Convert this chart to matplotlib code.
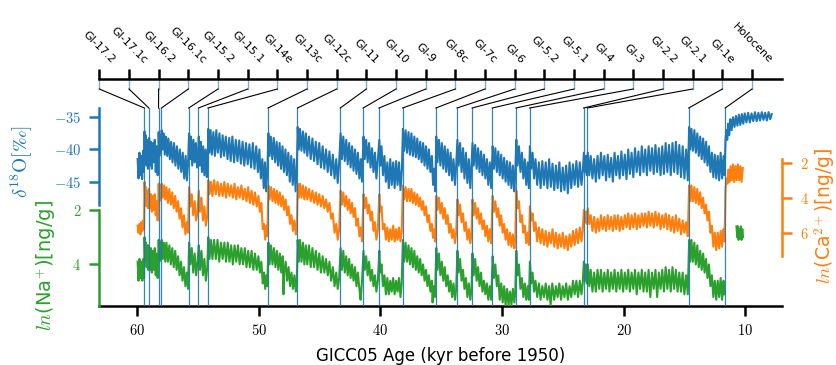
import matplotlib
matplotlib.use('Agg')
import matplotlib.pyplot as plt
from matplotlib.ticker import FuncFormatter, FixedLocator
import numpy as np

plt.rcParams['mathtext.fontset'] = 'cm'
plt.rcParams['font.family'] = ['DejaVu Sans']

C_BLUE = '#1f77b4'
C_OR = '#ff7f0e'
C_GR = '#2ca02c'

# ---------------- data ----------------
event_labels = ['GI-17.2', 'GI-17.1c', 'GI-16.2', 'GI-16.1c', 'GI-15.2', 'GI-15.1',
                'GI-14e', 'GI-13c', 'GI-12c', 'GI-11', 'GI-10', 'GI-9', 'GI-8c',
                'GI-7c', 'GI-6', 'GI-5.2', 'GI-5.1', 'GI-4', 'GI-3', 'GI-2.2',
                'GI-2.1', 'GI-1e', 'Holocene']
# onset ages, kyr before 1950
event_ages = [59.39, 59.03, 58.23, 57.99, 55.75, 54.95, 54.17, 49.23, 46.81,
              43.29, 41.41, 40.11, 38.17, 35.43, 33.69, 32.45, 30.79, 28.85,
              27.73, 23.29, 22.97, 14.64, 11.65]

age_ticks = [60, 50, 40, 30, 20, 10]
d18o_ticks = [-35, -40, -45]
na_ticks = [2, 4]
ca_ticks = [2, 4, 6]

# delta18O [permil] (age kyr, value)
d18o_pts = [
    (59.95, -41.5), (59.88, -44.5), (59.8, -40.5), (59.72, -44.0), (59.65, -41.0), (59.58, -44.6), (59.5, -40.2), (59.45, -43.5),
    (59.38, -37.2), (59.33, -41.0), (59.28, -37.8), (59.22, -42.5), (59.16, -38.5), (59.1, -43.0), (59.05, -39.0),
    (59.0, -38.2), (58.94, -42.5), (58.86, -38.8), (58.78, -43.0), (58.7, -39.0), (58.62, -42.0), (58.54, -38.5), (58.46, -43.5), (58.38, -39.5), (58.3, -44.0), (58.25, -41.0),
    (58.22, -37.3), (58.16, -41.0), (58.1, -37.8), (58.04, -40.5), (58.0, -38.5),
    (57.97, -37.0), (57.9, -40.0), (57.82, -37.5), (57.72, -40.8), (57.62, -38.0), (57.52, -41.0), (57.42, -38.3), (57.3, -41.5), (57.2, -38.8), (57.08, -42.0), (56.96, -39.0), (56.84, -42.5), (56.72, -39.5), (56.6, -43.0), (56.48, -40.0), (56.36, -43.5), (56.24, -40.5), (56.12, -44.5), (56.0, -41.0), (55.9, -44.8), (55.8, -42.0),
    (55.72, -37.5), (55.64, -41.5), (55.56, -38.0), (55.46, -42.5), (55.36, -38.5), (55.26, -42.0), (55.16, -39.0), (55.06, -42.8), (54.97, -40.5),
    (54.92, -38.0), (54.84, -42.5), (54.76, -38.8), (54.66, -43.5), (54.56, -39.5), (54.46, -44.0), (54.36, -40.0), (54.26, -44.3), (54.19, -42.0),
    (54.14, -36.8), (54.05, -40.5), (53.95, -37.0), (53.85, -40.8), (53.72, -37.3), (53.6, -41.0), (53.48, -37.0), (53.36, -40.5), (53.22, -37.5), (53.1, -41.2), (52.96, -37.8), (52.84, -41.0), (52.7, -38.0), (52.56, -41.5), (52.42, -38.2), (52.3, -41.8), (52.16, -38.0), (52.02, -42.0), (51.88, -38.5), (51.74, -41.8), (51.6, -38.6), (51.46, -42.2), (51.32, -38.8), (51.18, -42.5), (51.04, -39.0), (50.9, -42.3), (50.76, -39.2), (50.62, -42.8), (50.48, -39.0), (50.34, -43.0), (50.2, -39.5), (50.06, -43.5), (49.94, -40.0), (49.82, -44.5), (49.7, -41.5), (49.58, -46.0), (49.48, -42.0), (49.38, -46.5), (49.28, -43.0),
    (49.2, -37.5), (49.1, -41.0), (49.0, -38.0), (48.88, -41.5), (48.76, -38.2), (48.64, -42.0), (48.52, -38.8), (48.4, -42.5), (48.28, -39.0), (48.16, -43.0), (48.04, -39.5), (47.92, -43.5), (47.8, -40.0), (47.68, -44.0), (47.56, -40.5), (47.44, -45.0), (47.32, -41.0), (47.2, -45.5), (47.08, -41.5), (46.96, -46.5), (46.86, -43.0),
    (46.79, -36.5), (46.7, -40.0), (46.6, -36.8), (46.48, -40.2), (46.36, -37.2), (46.24, -40.5), (46.12, -37.5), (46.0, -41.0), (45.86, -38.0), (45.72, -41.5), (45.58, -38.3), (45.44, -41.8), (45.3, -38.8), (45.16, -42.3), (45.02, -39.0), (44.88, -42.8), (44.74, -39.5), (44.6, -43.0), (44.46, -40.0), (44.32, -43.5), (44.18, -40.3), (44.04, -44.0), (43.9, -40.8), (43.76, -44.5), (43.62, -41.5), (43.5, -45.2), (43.38, -42.0),
    (43.26, -37.5), (43.16, -41.5), (43.04, -38.0), (42.92, -41.8), (42.8, -38.5), (42.68, -42.3), (42.56, -39.0), (42.44, -42.8), (42.32, -39.5), (42.2, -43.3), (42.08, -40.0), (41.96, -43.8), (41.84, -40.5), (41.72, -44.5), (41.6, -41.5), (41.5, -45.0),
    (41.38, -38.0), (41.28, -41.5), (41.16, -38.5), (41.04, -42.0), (40.92, -39.0), (40.8, -42.8), (40.68, -39.8), (40.56, -43.5), (40.44, -40.5), (40.32, -44.5), (40.2, -41.5),
    (40.08, -38.5), (40.0, -42.5), (39.9, -39.5), (39.78, -44.0), (39.66, -41.0), (39.54, -45.0), (39.42, -42.0), (39.3, -46.0), (39.18, -41.5), (39.06, -45.5), (38.94, -42.0), (38.82, -46.0), (38.7, -41.8), (38.58, -45.5), (38.46, -42.0), (38.34, -46.3), (38.22, -43.0),
    (38.14, -36.8), (38.04, -40.2), (37.92, -37.0), (37.8, -40.5), (37.68, -37.3), (37.56, -40.8), (37.44, -37.5), (37.32, -41.0), (37.2, -38.0), (37.08, -41.2), (36.96, -38.3), (36.84, -41.5), (36.72, -38.8), (36.6, -42.0), (36.48, -39.0), (36.36, -42.5), (36.24, -39.5), (36.12, -43.0), (36.0, -40.0), (35.88, -43.5), (35.76, -41.0), (35.66, -45.5), (35.56, -43.0), (35.48, -46.5),
    (35.4, -38.0), (35.3, -42.0), (35.18, -38.5), (35.06, -42.5), (34.94, -39.0), (34.82, -43.0), (34.7, -39.5), (34.58, -43.5), (34.46, -40.0), (34.34, -44.0), (34.22, -40.5), (34.1, -44.8), (33.98, -41.5), (33.86, -45.5), (33.76, -42.5),
    (33.66, -38.5), (33.56, -42.5), (33.44, -39.0), (33.32, -43.5), (33.2, -39.8), (33.08, -44.5), (32.96, -40.5), (32.84, -45.2), (32.72, -41.5), (32.6, -46.0), (32.5, -42.5),
    (32.42, -39.0), (32.32, -42.5), (32.2, -39.3), (32.08, -43.0), (31.96, -39.8), (31.84, -43.5), (31.72, -40.3), (31.6, -44.0), (31.48, -40.8), (31.36, -44.5), (31.24, -41.5), (31.12, -45.5), (31.0, -42.0), (30.88, -46.0),
    (30.76, -39.5), (30.66, -43.0), (30.54, -39.8), (30.42, -43.5), (30.3, -40.3), (30.18, -44.0), (30.06, -40.8), (29.94, -44.5), (29.82, -41.3), (29.7, -45.0), (29.58, -41.8), (29.46, -45.5), (29.34, -42.0), (29.22, -46.0), (29.1, -42.5), (28.98, -46.5), (28.9, -43.5),
    (28.82, -38.5), (28.72, -42.5), (28.6, -39.5), (28.48, -43.5), (28.36, -40.5), (28.24, -44.5), (28.12, -41.5), (28.0, -45.5), (27.88, -42.0), (27.78, -46.0),
    (27.7, -39.5), (27.6, -43.0), (27.48, -40.5), (27.36, -44.5), (27.24, -41.5), (27.1, -45.5), (26.96, -42.0), (26.82, -46.0), (26.68, -41.8), (26.54, -45.5), (26.4, -42.0), (26.26, -46.0), (26.12, -41.5), (25.98, -45.8), (25.84, -42.2), (25.7, -46.3), (25.56, -42.5), (25.42, -46.0), (25.28, -42.0), (25.14, -46.5), (25.0, -42.8), (24.86, -46.3), (24.72, -42.5), (24.58, -46.8), (24.44, -42.0), (24.3, -46.0), (24.16, -42.3), (24.02, -45.5), (23.88, -41.8), (23.74, -45.8), (23.6, -42.0), (23.46, -45.5), (23.34, -43.0),
    (23.26, -40.5), (23.18, -43.5), (23.1, -41.0), (23.02, -44.0),
    (22.94, -40.5), (22.82, -44.0), (22.7, -41.0), (22.56, -44.5), (22.42, -41.5), (22.28, -45.0), (22.14, -41.0), (22.0, -44.5), (21.86, -40.5), (21.72, -44.0), (21.58, -41.0), (21.44, -44.8), (21.3, -40.8), (21.16, -44.3), (21.02, -41.3), (20.88, -45.0), (20.74, -40.5), (20.6, -44.0), (20.46, -41.0), (20.32, -44.5), (20.18, -40.3), (20.04, -44.0), (19.9, -40.8), (19.76, -44.6), (19.62, -40.0), (19.48, -43.8), (19.34, -40.5), (19.2, -44.3), (19.06, -39.8), (18.92, -43.5), (18.78, -40.3), (18.64, -44.0), (18.5, -39.5), (18.36, -43.5), (18.22, -40.0), (18.08, -44.0), (17.94, -39.5), (17.8, -43.3), (17.66, -39.8), (17.52, -43.8), (17.38, -39.3), (17.24, -43.5), (17.1, -39.8), (16.96, -44.0), (16.82, -39.5), (16.68, -43.8), (16.54, -39.0), (16.4, -43.5), (16.26, -39.3), (16.12, -44.0), (15.98, -39.0), (15.84, -43.5), (15.7, -38.8), (15.56, -43.8), (15.42, -39.3), (15.28, -44.3), (15.14, -39.5), (15.0, -44.5), (14.86, -40.0), (14.72, -44.8),
    (14.61, -36.5), (14.52, -40.0), (14.42, -36.8), (14.3, -40.2), (14.18, -37.0), (14.06, -40.5), (13.94, -37.5), (13.82, -41.0), (13.7, -38.0), (13.58, -41.5), (13.46, -38.3), (13.34, -42.0), (13.22, -38.8), (13.1, -42.5), (12.98, -39.5), (12.86, -43.5), (12.74, -40.5), (12.62, -44.3), (12.5, -40.8), (12.38, -44.5), (12.26, -41.0), (12.14, -44.8), (12.02, -40.5), (11.9, -44.5), (11.78, -41.0), (11.7, -44.0),
    (11.62, -38.5), (11.55, -37.0), (11.48, -38.5), (11.4, -36.0), (11.32, -37.8), (11.22, -35.3), (11.12, -37.0), (11.0, -35.0), (10.88, -36.5), (10.76, -34.8), (10.64, -36.3), (10.52, -34.6), (10.4, -36.2), (10.28, -34.5), (10.16, -36.0), (10.04, -34.4), (9.9, -35.8), (9.76, -34.3), (9.62, -35.8), (9.48, -34.4), (9.34, -35.6), (9.2, -34.2), (9.06, -35.6), (8.92, -34.3), (8.78, -35.5), (8.64, -34.2), (8.5, -35.4), (8.36, -34.3), (8.22, -35.5), (8.08, -34.2), (7.94, -35.3), (7.82, -34.5),
]

# ln(Ca2+) [ng/g]
ca_pts = [
    (59.95, 5.6), (59.88, 6.0), (59.8, 5.5), (59.72, 6.1), (59.64, 5.4), (59.56, 5.9), (59.48, 5.3), (59.42, 5.8),
    (59.38, 3.1), (59.32, 4.2), (59.26, 3.4), (59.2, 4.5), (59.14, 3.6), (59.08, 4.6),
    (59.02, 3.5), (58.94, 4.6), (58.86, 3.8), (58.78, 4.8), (58.7, 3.9), (58.62, 4.7), (58.54, 3.8), (58.46, 5.0), (58.38, 4.2), (58.3, 5.3),
    (58.22, 3.2), (58.16, 4.2), (58.08, 3.3), (58.02, 4.0),
    (57.97, 3.2), (57.88, 4.0), (57.78, 3.3), (57.68, 4.1), (57.58, 3.4), (57.46, 4.3), (57.34, 3.5), (57.22, 4.4), (57.1, 3.7), (56.98, 4.6), (56.86, 3.9), (56.74, 4.8), (56.62, 4.2), (56.5, 5.2), (56.38, 4.6), (56.26, 5.7), (56.14, 5.0), (56.02, 6.1), (55.9, 5.4), (55.8, 6.0),
    (55.72, 3.4), (55.62, 4.5), (55.5, 3.8), (55.38, 5.0), (55.26, 4.2), (55.14, 5.3), (55.02, 4.8),
    (54.92, 3.6), (54.82, 4.8), (54.7, 4.0), (54.58, 5.3), (54.46, 4.5), (54.34, 5.6), (54.22, 5.0),
    (54.14, 3.0), (54.04, 3.8), (53.92, 3.1), (53.8, 3.9), (53.66, 3.0), (53.52, 3.8), (53.38, 3.1), (53.24, 3.9), (53.1, 3.2), (52.96, 3.9), (52.82, 3.1), (52.68, 4.0), (52.54, 3.2), (52.4, 3.9), (52.26, 3.3), (52.12, 4.0), (51.98, 3.2), (51.84, 4.1), (51.7, 3.4), (51.56, 4.0), (51.42, 3.3), (51.28, 4.1), (51.14, 3.5), (51.0, 4.2), (50.86, 3.4), (50.72, 4.3), (50.58, 3.6), (50.44, 4.4), (50.3, 3.7), (50.16, 4.5), (50.02, 3.9), (49.9, 4.8), (49.78, 4.3), (49.66, 5.8), (49.56, 5.5), (49.46, 6.4), (49.36, 5.6), (49.28, 6.2),
    (49.2, 3.3), (49.1, 4.1), (48.98, 3.4), (48.86, 4.2), (48.74, 3.5), (48.62, 4.3), (48.5, 3.6), (48.38, 4.4), (48.26, 3.7), (48.14, 4.5), (48.02, 3.9), (47.9, 4.7), (47.78, 4.1), (47.66, 5.0), (47.54, 4.5), (47.42, 5.5), (47.3, 5.0), (47.18, 5.9), (47.06, 5.3), (46.94, 6.1), (46.86, 5.6),
    (46.79, 3.2), (46.7, 4.0), (46.6, 3.2), (46.48, 4.0), (46.36, 3.3), (46.24, 4.1), (46.12, 3.4), (46.0, 4.1), (45.86, 3.5), (45.72, 4.2), (45.58, 3.6), (45.44, 4.3), (45.3, 3.7), (45.16, 4.4), (45.02, 3.8), (44.88, 4.5), (44.74, 3.9), (44.6, 4.6), (44.46, 4.1), (44.32, 4.8), (44.18, 4.3), (44.04, 5.2), (43.9, 4.9), (43.76, 6.0), (43.62, 5.5), (43.5, 6.4), (43.38, 5.8),
    (43.26, 3.6), (43.16, 4.4), (43.04, 3.7), (42.92, 4.5), (42.8, 3.9), (42.68, 4.7), (42.56, 4.1), (42.44, 4.9), (42.32, 4.3), (42.2, 5.1), (42.08, 4.6), (41.96, 5.6), (41.84, 5.2), (41.72, 6.2), (41.6, 5.7), (41.5, 6.5),
    (41.38, 3.8), (41.28, 4.6), (41.16, 4.0), (41.04, 4.9), (40.92, 4.4), (40.8, 5.3), (40.68, 4.8), (40.56, 5.9), (40.44, 5.4), (40.32, 6.4), (40.2, 5.8),
    (40.08, 3.8), (40.0, 4.8), (39.9, 4.5), (39.78, 5.8), (39.66, 5.5), (39.54, 6.4), (39.42, 5.7), (39.3, 6.5), (39.18, 5.8), (39.06, 6.4), (38.94, 5.6), (38.82, 6.5), (38.7, 5.8), (38.58, 6.4), (38.46, 5.7), (38.34, 6.5), (38.24, 5.9),
    (38.14, 3.3), (38.04, 4.1), (37.92, 3.4), (37.8, 4.2), (37.68, 3.5), (37.56, 4.2), (37.44, 3.5), (37.32, 4.3), (37.2, 3.7), (37.08, 4.4), (36.96, 3.8), (36.84, 4.5), (36.72, 4.0), (36.6, 4.7), (36.48, 4.2), (36.36, 5.0), (36.24, 4.5), (36.12, 5.4), (36.0, 5.0), (35.88, 5.9), (35.76, 5.5), (35.66, 6.3), (35.56, 5.8), (35.48, 6.5),
    (35.4, 3.9), (35.3, 4.7), (35.18, 4.0), (35.06, 4.9), (34.94, 4.3), (34.82, 5.2), (34.7, 4.6), (34.58, 5.5), (34.46, 5.0), (34.34, 6.0), (34.22, 5.5), (34.1, 6.3), (33.98, 5.8), (33.86, 6.6), (33.76, 6.0),
    (33.66, 4.1), (33.56, 5.0), (33.44, 4.4), (33.32, 5.4), (33.2, 4.9), (33.08, 5.9), (32.96, 5.4), (32.84, 6.4), (32.72, 5.8), (32.6, 6.6), (32.5, 6.0),
    (32.42, 4.1), (32.32, 5.0), (32.2, 4.3), (32.08, 5.2), (31.96, 4.6), (31.84, 5.5), (31.72, 4.9), (31.6, 5.8), (31.48, 5.3), (31.36, 6.2), (31.24, 5.6), (31.12, 6.5), (31.0, 5.8), (30.88, 6.6),
    (30.76, 3.9), (30.66, 4.8), (30.54, 4.2), (30.42, 5.1), (30.3, 4.6), (30.18, 5.6), (30.06, 5.0), (29.94, 6.0), (29.82, 5.5), (29.7, 6.4), (29.58, 5.8), (29.46, 6.7), (29.34, 6.0), (29.22, 6.8), (29.1, 6.1), (28.98, 6.9), (28.9, 6.3),
    (28.82, 3.6), (28.72, 4.6), (28.6, 4.2), (28.48, 5.4), (28.36, 5.0), (28.24, 6.0), (28.12, 5.6), (28.0, 6.6), (27.88, 6.0), (27.78, 6.7),
    (27.7, 4.5), (27.6, 5.3), (27.48, 4.9), (27.36, 5.9), (27.24, 5.4), (27.1, 6.5), (26.96, 5.7), (26.82, 6.6), (26.68, 5.8), (26.54, 6.7), (26.4, 5.9), (26.26, 6.8), (26.12, 6.0), (25.98, 6.6), (25.84, 5.8), (25.7, 6.8), (25.56, 6.0), (25.42, 6.9), (25.28, 6.1), (25.14, 6.8), (25.0, 6.0), (24.86, 6.9), (24.72, 6.2), (24.58, 7.0), (24.44, 6.1), (24.3, 6.8), (24.16, 5.9), (24.02, 6.7), (23.88, 5.8), (23.74, 6.6), (23.6, 5.7), (23.46, 6.5), (23.36, 5.9),
    (23.26, 4.7), (23.18, 5.4), (23.1, 4.8), (23.02, 5.5),
    (22.94, 4.6), (22.82, 5.5), (22.7, 5.0), (22.56, 5.9), (22.42, 5.1), (22.28, 6.0), (22.14, 5.2), (22.0, 5.9), (21.86, 5.0), (21.72, 5.8), (21.58, 5.1), (21.44, 5.9), (21.3, 5.0), (21.16, 5.8), (21.02, 5.1), (20.88, 5.9), (20.74, 5.0), (20.6, 5.8), (20.46, 5.0), (20.32, 5.9), (20.18, 5.1), (20.04, 5.8), (19.9, 5.0), (19.76, 5.7), (19.62, 4.9), (19.48, 5.8), (19.34, 5.0), (19.2, 5.7), (19.06, 4.9), (18.92, 5.8), (18.78, 5.0), (18.64, 5.7), (18.5, 4.9), (18.36, 5.6), (18.22, 4.9), (18.08, 5.7), (17.94, 4.8), (17.8, 5.6), (17.66, 4.9), (17.52, 5.7), (17.38, 4.8), (17.24, 5.6), (17.1, 4.9), (16.96, 5.8), (16.82, 5.0), (16.68, 5.7), (16.54, 4.9), (16.4, 5.8), (16.26, 5.0), (16.12, 5.9), (15.98, 5.1), (15.84, 6.0), (15.7, 5.0), (15.56, 5.9), (15.42, 5.2), (15.28, 6.1), (15.14, 5.3), (15.0, 6.0), (14.86, 5.4), (14.72, 6.2),
    (14.61, 3.3), (14.52, 4.2), (14.42, 3.3), (14.3, 4.2), (14.18, 3.4), (14.06, 4.3), (13.94, 3.5), (13.82, 4.4), (13.7, 3.7), (13.58, 4.6), (13.46, 4.0), (13.34, 4.9), (13.22, 4.4), (13.1, 5.3), (12.98, 4.8), (12.86, 6.0), (12.74, 5.6), (12.62, 6.8), (12.5, 6.0), (12.38, 7.0), (12.26, 6.0), (12.14, 6.9), (12.02, 5.9), (11.9, 6.8), (11.78, 5.8), (11.7, 6.5),
    (11.62, 3.5), (11.54, 2.9), (11.46, 3.2), (11.38, 2.4), (11.3, 3.1), (11.2, 2.2), (11.1, 3.0), (11.0, 2.1), (10.9, 3.1), (10.8, 2.2), (10.7, 3.0), (10.6, 2.1), (10.5, 3.0), (10.4, 2.2), (10.3, 3.1), (10.2, 2.3),
]

# ln(Na+) [ng/g]  (None = gap in record)
na_pts = [
    (59.95, 3.9), (59.88, 4.6), (59.8, 3.8), (59.72, 4.5), (59.64, 3.9), (59.56, 4.6), (59.48, 3.8), (59.42, 4.5),
    (59.38, 3.0), (59.32, 3.9), (59.26, 3.2), (59.2, 4.1), (59.14, 3.3), (59.08, 4.2),
    (59.02, 3.3), (58.94, 4.2), (58.86, 3.4), (58.78, 4.3), (58.7, 3.5), (58.62, 4.2), (58.54, 3.4), (58.46, 4.4), (58.38, 3.6), (58.3, 4.5),
    (58.22, 3.1), (58.16, 3.9), (58.08, 3.2), (58.02, 3.8),
    (57.97, 3.1), (57.88, 3.8), (57.78, 3.2), (57.68, 3.9), (57.58, 3.2), (57.46, 3.9), (57.34, 3.3), (57.22, 4.0), (57.1, 3.4), (56.98, 4.1), (56.86, 3.5), (56.74, 4.2), (56.62, 3.7), (56.5, 4.4), (56.38, 3.9), (56.26, 4.6), (56.14, 4.1), (56.02, 4.8), (55.9, 4.3), (55.8, 4.9),
    (55.72, 3.2), (55.62, 4.0), (55.5, 3.4), (55.38, 4.3), (55.26, 3.6), (55.14, 4.4), (55.02, 3.9),
    (54.92, 3.3), (54.82, 4.2), (54.7, 3.5), (54.58, 4.4), (54.46, 3.8), (54.34, 4.6), (54.22, 4.1),
    (54.14, 3.0), (54.04, 3.8), (53.92, 3.1), (53.8, 3.8), (53.66, 3.1), (53.52, 3.8), (53.38, 3.1), (53.24, 3.9), (53.1, 3.2), (52.96, 3.8), (52.82, 3.2), (52.68, 3.9), (52.54, 3.2), (52.4, 3.9), (52.26, 3.3), (52.12, 4.0), (51.98, 3.3), (51.84, 3.9), (51.7, 3.3), (51.56, 4.0), (51.42, 3.4), (51.28, 4.0), (51.14, 3.4), (51.0, 4.1), (50.86, 3.5), (50.72, 4.1), (50.58, 3.5), (50.44, 4.2), (50.3, 3.6), (50.16, 4.2), (50.02, 3.7), (49.9, 4.3), (49.78, 3.9), (49.66, 4.7), (49.56, 4.3), (49.46, 4.9), (49.36, 4.4), (49.28, 4.8),
    (49.2, 3.2), (49.1, 4.0), (48.98, 3.3), (48.86, 4.0), (48.74, 3.4), (48.62, 4.1), (48.5, 3.5), (48.38, 4.2), (48.26, 3.6), (48.14, 4.3), (48.02, 3.7), (47.96, 5.1), (47.9, 4.3), (47.78, 3.9), (47.66, 4.6), (47.54, 4.1), (47.42, 4.8), (47.3, 4.3), (47.18, 4.9), (47.06, 4.4), (46.94, 5.0), (46.86, 4.6),
    (46.79, 3.1), (46.7, 3.9), (46.6, 3.1), (46.48, 3.9), (46.36, 3.2), (46.24, 4.0), (46.12, 3.3), (46.0, 4.0), (45.86, 3.3), (45.72, 4.1), (45.58, 3.4), (45.44, 4.1), (45.3, 3.5), (45.16, 4.2), (45.02, 3.6), (44.88, 4.3), (44.74, 3.7), (44.6, 4.3), (44.46, 3.8), (44.32, 4.4), (44.18, 3.9), (44.04, 4.6), (43.9, 4.1), (43.76, 4.8), (43.62, 4.3), (43.5, 4.9), (43.38, 4.5),
    (43.26, 3.4), (43.16, 4.2), (43.04, 3.5), (42.92, 4.3), (42.8, 3.7), (42.68, 4.4), (42.56, 3.8), (42.44, 4.5), (42.32, 4.0), (42.2, 4.6), (42.08, 4.1), (41.96, 4.8), (41.84, 4.3), (41.72, 4.9), (41.62, 5.3), (41.5, 4.6),
    (41.38, 3.5), (41.28, 4.2), (41.16, 3.7), (41.04, 4.4), (40.92, 3.9), (40.8, 4.6), (40.68, 4.2), (40.56, 4.8), (40.44, 4.4), (40.32, 5.0), (40.2, 4.6),
    (40.08, 3.5), (40.0, 4.3), (39.9, 4.0), (39.78, 4.8), (39.66, 4.4), (39.54, 5.1), (39.42, 4.5), (39.3, 5.1), (39.18, 4.6), (39.06, 5.0), (38.94, 4.5), (38.82, 5.1), (38.7, 4.6), (38.58, 5.0), (38.46, 4.5), (38.34, 5.2), (38.24, 4.7),
    (38.14, 3.1), (38.04, 3.9), (37.92, 3.2), (37.8, 3.9), (37.68, 3.3), (37.56, 4.0), (37.44, 3.4), (37.32, 4.1), (37.2, 3.5), (37.08, 4.2), (36.96, 3.7), (36.84, 4.3), (36.72, 3.8), (36.6, 4.4), (36.48, 4.0), (36.36, 4.6), (36.24, 4.2), (36.12, 4.8), (36.0, 4.4), (35.88, 5.0), (35.76, 4.6), (35.7, 5.4), (35.62, 4.8), (35.5, 5.2),
    (35.4, 3.4), (35.3, 4.2), (35.18, 3.6), (35.06, 4.4), (34.94, 3.9), (34.82, 4.6), (34.7, 4.1), (34.58, 4.8), (34.46, 4.4), (34.34, 5.0), (34.22, 4.6), (34.1, 5.2), (33.98, 4.7), (33.86, 5.3), (33.76, 4.9),
    (33.66, 3.5), (33.56, 4.3), (33.44, 3.8), (33.32, 4.6), (33.2, 4.2), (33.08, 4.9), (32.96, 4.5), (32.84, 5.2), (32.72, 4.7), (32.6, 5.3), (32.5, 4.9),
    (32.42, 3.6), (32.32, 4.4), (32.2, 3.8), (32.08, 4.6), (31.96, 4.1), (31.84, 4.8), (31.72, 4.3), (31.6, 5.0), (31.48, 4.6), (31.36, 5.1), (31.24, 4.7), (31.12, 5.3), (31.0, 4.8), (30.88, 5.3),
    (30.76, 3.7), (30.66, 4.5), (30.54, 4.0), (30.42, 4.8), (30.3, 4.4), (30.18, 5.3), (30.06, 4.7), (29.94, 5.4), (29.82, 4.8), (29.7, 5.5), (29.58, 4.9), (29.46, 5.5), (29.34, 5.0), (29.22, 5.5), (29.1, 4.9), (28.98, 5.4), (28.9, 5.0),
    (28.82, 3.5), (28.72, 4.4), (28.6, 4.0), (28.48, 4.9), (28.36, 4.5), (28.24, 5.2), (28.12, 4.7), (28.0, 5.3), (27.88, 4.8), (27.78, 5.3),
    (27.7, 3.9), (27.6, 4.7), (27.48, 4.3), (27.36, 5.0), (27.24, 4.6), (27.1, 5.2), (26.96, 4.7), (26.82, 5.3), (26.68, 4.8), (26.54, 5.2), (26.4, 4.7), (26.26, 5.3), (26.12, 4.8), (26.0, 5.5), (25.86, 4.7), (25.7, 5.3), (25.56, 4.8), (25.42, 5.2), (25.28, 4.7), (25.14, 5.3), (25.0, 4.8), (24.86, 5.2), (24.72, 4.7), (24.58, 5.3), (24.44, 4.8), (24.3, 5.2), (24.16, 4.6), (24.02, 5.1), (23.88, 4.6), (23.74, 5.2), (23.6, 4.6), (23.46, 5.1), (23.36, 4.7),
    (23.26, 3.9), (23.18, 4.6), (23.1, 4.0), (23.02, 4.7),
    (22.94, 4.0), (22.82, 4.8), (22.7, 4.2), (22.56, 5.0), (22.42, 4.3), (22.28, 5.0), (22.14, 4.2), (22.0, 4.9), (21.86, 4.2), (21.72, 5.0), (21.58, 4.3), (21.44, 4.9), (21.3, 4.2), (21.16, 5.0), (21.02, 4.3), (20.88, 4.9), (20.74, 4.2), (20.6, 5.0), (20.46, 4.3), (20.32, 4.9), (20.18, 4.2), (20.04, 5.0), (19.9, 4.3), (19.76, 4.9), (19.62, 4.2), (19.48, 5.0), (19.34, 4.3), (19.2, 4.9), (19.06, 4.2), (18.92, 5.1), (18.78, 4.3), (18.64, 4.9), (18.5, 4.2), (18.36, 5.0), (18.22, 4.3), (18.08, 5.0), (17.94, 4.2), (17.8, 5.2), (17.66, 4.3), (17.52, 4.9), (17.38, 4.2), (17.24, 5.2), (17.1, 4.3), (16.96, 4.9), (16.82, 4.2), (16.68, 5.0), (16.54, 4.1), (16.4, 4.9), (16.26, 4.2), (16.12, 5.0), (15.98, 4.1), (15.84, 4.9), (15.7, 4.2), (15.56, 5.0), (15.42, 4.3), (15.28, 5.0), (15.14, 4.3), (15.0, 5.1), (14.86, 4.4), (14.72, 5.1),
    (14.61, 3.1), (14.52, 3.9), (14.42, 3.1), (14.3, 3.9), (14.18, 3.2), (14.06, 4.0), (13.94, 3.3), (13.82, 4.1), (13.7, 3.5), (13.58, 4.2), (13.46, 3.6), (13.34, 4.3), (13.22, 3.8), (13.1, 4.5), (12.98, 4.0), (12.86, 4.8), (12.74, 4.4), (12.62, 5.2), (12.5, 4.6), (12.38, 5.3), (12.26, 4.6), (12.14, 5.2), (12.02, 4.5), (11.9, 5.3), (11.78, 4.6), (11.7, 5.1),
    (11.2, None),
    (10.72, 2.6), (10.66, 3.0), (10.6, 2.6), (10.54, 3.1), (10.48, 2.7), (10.42, 3.0), (10.36, 2.6), (10.3, 3.1), (10.24, 2.7), (10.18, 3.0),
]

# ---------------- layout ----------------
W, H = 837, 365
fig = plt.figure(figsize=(W / 100, H / 100), dpi=100)


def box(l, t, r, b):
    return [l / W, 1 - b / H, (r - l) / W, (b - t) / H]


LEFT, RIGHT, TOP, BOT = 99.3, 781.7, 108, 306
main_box = box(LEFT, TOP, RIGHT, BOT)
ax_b = fig.add_axes(main_box)
ax_g = fig.add_axes(main_box, sharex=ax_b)
ax_o = fig.add_axes(main_box, sharex=ax_b)
ax_c = fig.add_axes(box(LEFT, 79, RIGHT, TOP))

math_fmt = FuncFormatter(lambda v, p: r'$%g$' % v)
SPW = 1.8
TFS = 10.5
DLW = 1.5

for a in (ax_b, ax_g, ax_o, ax_c):
    a.patch.set_visible(False)
    for s in a.spines.values():
        s.set_visible(False)

ax_b.set_xlim(63.1, 7.0)

# blue axis
ax_b.set_ylim(-64.3, -33.56)
ax_b.spines['left'].set_visible(True)
ax_b.spines['left'].set_color(C_BLUE)
ax_b.spines['left'].set_linewidth(SPW)
ax_b.spines['left'].set_bounds(-48.6, -33.56)
ax_b.spines['bottom'].set_visible(True)
ax_b.spines['bottom'].set_linewidth(SPW)
ax_b.yaxis.set_major_locator(FixedLocator(d18o_ticks))
ax_b.yaxis.set_major_formatter(math_fmt)
ax_b.tick_params(axis='y', colors=C_BLUE, length=7, width=SPW, labelsize=TFS, pad=6)
ax_b.xaxis.set_major_locator(FixedLocator(age_ticks))
ax_b.xaxis.set_major_formatter(math_fmt)
ax_b.tick_params(axis='x', length=7, width=SPW, labelsize=TFS, pad=5)

# green axis
ax_g.set_ylim(5.529, -1.75)
ax_g.spines['left'].set_visible(True)
ax_g.spines['left'].set_color(C_GR)
ax_g.spines['left'].set_linewidth(SPW)
ax_g.spines['left'].set_bounds(2, 5.529)
ax_g.yaxis.set_major_locator(FixedLocator(na_ticks))
ax_g.yaxis.set_major_formatter(math_fmt)
ax_g.tick_params(axis='y', colors=C_GR, length=7, width=SPW, labelsize=TFS, pad=6)
ax_g.tick_params(axis='x', bottom=False, labelbottom=False)

# orange axis
ax_o.set_ylim(10.19, -1.126)
ax_o.spines['right'].set_visible(True)
ax_o.spines['right'].set_color(C_OR)
ax_o.spines['right'].set_linewidth(SPW)
ax_o.spines['right'].set_bounds(1.8, 7.35)
ax_o.yaxis.tick_right()
ax_o.yaxis.set_major_locator(FixedLocator(ca_ticks))
ax_o.yaxis.set_major_formatter(math_fmt)
ax_o.tick_params(axis='y', colors=C_OR, length=7, width=SPW, labelsize=TFS, pad=6)
ax_o.tick_params(axis='x', bottom=False, labelbottom=False)

# data
def split(pts):
    xs = [p[0] for p in pts]
    ys = [np.nan if p[1] is None else p[1] for p in pts]
    return xs, ys

x, y = split(d18o_pts)
ax_b.plot(x, y, color=C_BLUE, lw=DLW)
x, y = split(ca_pts)
ax_o.plot(x, y, color=C_OR, lw=DLW)
x, y = split(na_pts)
ax_g.plot(x, y, color=C_GR, lw=DLW)

# event lines
for age in event_ages:
    ax_o.axvline(age, color=C_BLUE, lw=0.9, alpha=0.9)

# connector axis on top
n = len(event_labels)
ax_c.set_xlim(0, n)
ax_c.set_ylim(0, 1)
ax_c.spines['top'].set_visible(True)
ax_c.spines['top'].set_linewidth(SPW)
ax_c.set_yticks([])
ax_c.xaxis.set_major_locator(FixedLocator(list(range(n))))
ax_c.set_xticklabels(event_labels)
ax_c.tick_params(axis='x', bottom=False, labelbottom=False, top=True, labeltop=True,
                 length=7, width=SPW, labelsize=8, labelrotation=-45, pad=3)

to_c = ax_c.transData.inverted()
for i, age in enumerate(event_ages):
    xe = to_c.transform(ax_b.transData.transform((age, 0)))[0]
    ax_c.plot([i, i], [1, 0.655], color=C_BLUE, lw=1.0, alpha=0.6, clip_on=False)
    ax_c.plot([i, xe], [0.655, 0], color='black', lw=0.8, clip_on=False)

# labels
fig.text(441 / W, 1 - 356 / H, 'GICC05 Age (kyr before 1950)', ha='center', va='center', fontsize=12)
fig.text(22 / W, 1 - 161 / H, r'$\delta^{18}\mathrm{O}[\mathrm{‰}]$', rotation=90, color=C_BLUE,
         fontsize=14, ha='center', va='center')
fig.text(46 / W, 1 - 265 / H, r'$ln$(Na$^{+}$)[ng/g]', rotation=90, color=C_GR,
         fontsize=14, ha='center', va='center')
fig.text(825 / W, 1 - 216 / H, r'$ln$(Ca$^{2+}$)[ng/g]', rotation=90, color=C_OR,
         fontsize=13.5, ha='center', va='center')

fig.savefig('out.png', dpi=100)
